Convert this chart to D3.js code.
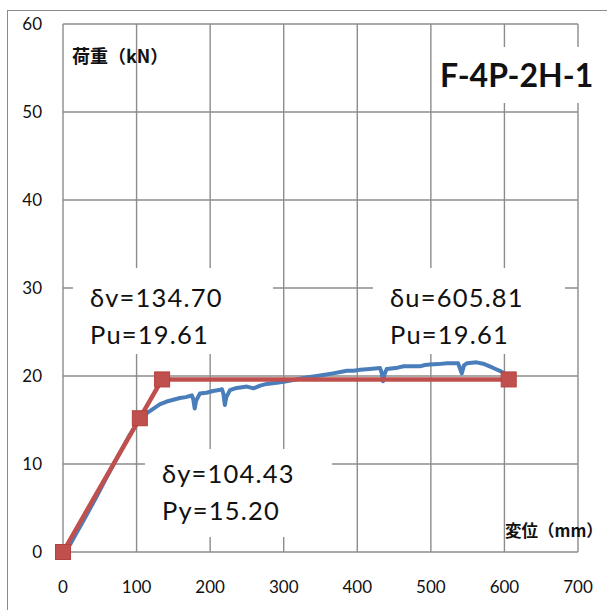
<!DOCTYPE html>
<html><head><meta charset="utf-8">
<script src="https://cdn.jsdelivr.net/npm/d3@7"></script>
<style>html,body{margin:0;padding:0;background:#fff;overflow:hidden}</style>
</head><body>
<svg id="c" width="607" height="610"></svg>
<script>
// ---- data ----
const xTicks = [0,100,200,300,400,500,600,700];
const yTicks = [0,10,20,30,40,50,60];
const curveDisp = [0,10,20,30,45,60,75,90,103,109,116,123,132,141,150,159,167,175,177,179,181,186,195,204,212,216,218,220,222,227,234,241,250,259,268,277,288,300,311,322,333,345,356,367,377,386,395,404,417,431,433,435,437,440,452,463,474,485,492,499,510,522,530,537,539,542,545,549,556,562,571,580,588,596,600];
const curveLoad = [0,0.9,2.4,3.9,6.2,8.6,10.9,13.2,14.9,15.4,15.9,16.3,16.8,17.1,17.3,17.5,17.6,17.8,17.4,16.3,17.2,18.0,18.1,18.3,18.4,18.5,18.0,16.7,17.6,18.4,18.6,18.7,18.8,18.6,18.9,19.1,19.2,19.35,19.5,19.7,19.85,20.0,20.15,20.3,20.45,20.6,20.6,20.7,20.8,20.9,20.4,19.4,20.2,20.8,20.9,21.1,21.1,21.1,21.25,21.3,21.35,21.45,21.45,21.45,21.0,20.3,21.2,21.45,21.5,21.55,21.4,21.1,20.8,20.5,20.3];
const biDisp = [0,104.43,134.70,605.81];
const biLoad = [0,15.20,19.61,19.61];
const title = "F-4P-2H-1";
const yTitle = "荷重（kN）";
const xTitle = "変位（mm）";
const notes = [
  {lines:["δv=134.70","Pu=19.61"]},
  {lines:["δy=104.43","Py=15.20"]},
  {lines:["δu=605.81","Pu=19.61"]}
];

// ---- layout ----
const svg = d3.select("#c");
const L=63, R=578, T=24, B=552;
const x = d3.scaleLinear().domain([0,700]).range([L,R]);
const y = d3.scaleLinear().domain([0,60]).range([B,T]);
const grid = "#8c8c8c";
const latin = "Lato, 'Open Sans', 'DejaVu Sans', sans-serif";
const cjk = "'Noto Sans CJK JP', sans-serif";

// outer frame
svg.append("rect").attr("x",7.5).attr("y",10.5).attr("width",700).attr("height",700)
  .attr("fill","none").attr("stroke","#8a8a8a").attr("stroke-width",1);

// gridlines
const g = svg.append("g");
g.selectAll("line.v").data(xTicks).join("line")
  .attr("x1",d=>x(d)).attr("x2",d=>x(d)).attr("y1",T).attr("y2",B)
  .attr("stroke",grid).attr("stroke-width",1.4);
g.selectAll("line.h").data(yTicks).join("line")
  .attr("x1",L).attr("x2",R).attr("y1",d=>y(d)).attr("y2",d=>y(d))
  .attr("stroke",grid).attr("stroke-width",1.4);

// tick labels
svg.append("g").selectAll("text").data(yTicks).join("text")
  .attr("x",42).attr("y",d=>y(d)+6).attr("text-anchor","end")
  .attr("font-family",latin).attr("font-size",17).attr("fill","#111")
  .text(d=>d);
svg.append("g").selectAll("text").data(xTicks).join("text")
  .attr("x",d=>x(d)).attr("y",593).attr("text-anchor","middle")
  .attr("font-family",latin).attr("font-size",17).attr("fill","#111")
  .text(d=>d);

// white annotation boxes
const boxes = [
  {x:73,y:268,w:200,h:86, tx:90, ty:307},
  {x:145,y:449,w:187,h:88, tx:162, ty:483},
  {x:373,y:268,w:192,h:86, tx:390, ty:307}
];
svg.append("rect").attr("x",432).attr("y",47).attr("width",175).attr("height",56).attr("fill","#fff");
boxes.forEach((b,i)=>{
  svg.append("rect").attr("x",b.x).attr("y",b.y).attr("width",b.w).attr("height",b.h).attr("fill","#fff");
  notes[i].lines.forEach((t,j)=>{
    svg.append("text").attr("x",b.tx).attr("y",b.ty+j*36.5)
      .attr("font-family",latin).attr("font-size",25.5).attr("letter-spacing",1.2)
      .attr("fill","#111").text(t);
  });
});

// title
svg.append("text").attr("x",440).attr("y",87).attr("font-family",latin)
  .attr("font-weight","bold").attr("font-size",32).attr("fill","#111").text(title);
// axis titles
svg.append("text").attr("x",72).attr("y",63).attr("font-family",cjk)
  .attr("font-weight","bold").attr("font-size",18).attr("fill","#111").text(yTitle);
svg.append("text").attr("x",505).attr("y",537).attr("font-family",cjk)
  .attr("font-weight","bold").attr("font-size",16.5).attr("fill","#111").text(xTitle);

// series
const line = d3.line().x(d=>x(d[0])).y(d=>y(d[1]));
const curve = curveDisp.map((d,i)=>[d,curveLoad[i]]);
svg.append("path").datum(curve).attr("d",line).attr("fill","none")
  .attr("stroke","#4a7ebb").attr("stroke-width",4).attr("stroke-linejoin","round").attr("stroke-linecap","round");
const bi = biDisp.map((d,i)=>[d,biLoad[i]]);
svg.append("path").datum(bi).attr("d",line).attr("fill","none")
  .attr("stroke","#c0504d").attr("stroke-width",4.5).attr("stroke-linejoin","round");
svg.append("g").selectAll("rect").data(bi).join("rect")
  .attr("x",d=>x(d[0])-7.5).attr("y",d=>y(d[1])-7.5).attr("width",15).attr("height",15)
  .attr("fill","#c0504d").attr("stroke","#b5403d").attr("stroke-width",1);
</script>
</body></html>
